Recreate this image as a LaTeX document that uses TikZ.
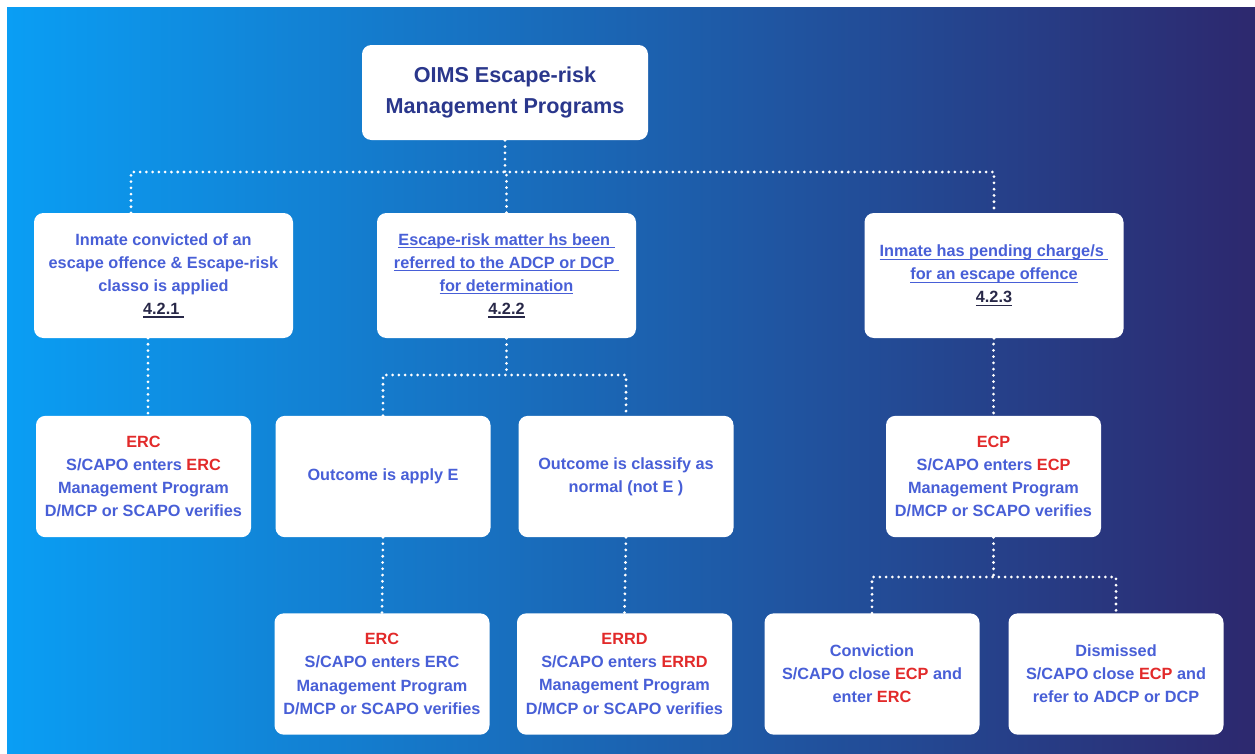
\documentclass[tikz,border=0pt]{standalone}
\usepackage{fontspec}
\setmainfont{Liberation Sans}
\definecolor{bgL}{RGB}{10,158,244}
\definecolor{bgM}{RGB}{28,92,180}
\definecolor{bgR}{RGB}{45,40,110}
\definecolor{txtblue}{RGB}{72,95,215}
\definecolor{titlenavy}{RGB}{42,55,140}
\definecolor{ercred}{RGB}{226,42,42}
\definecolor{numc}{RGB}{40,40,72}
\newcommand\rd[1]{{\color{ercred}#1}}
\newcommand\ulx[1]{\setbox0=\hbox{#1}\rlap{\rule[-2.3pt]{\wd0}{0.9pt}}\box0}
\newcommand\nm[1]{{\color{numc}\ulx{#1}}}
\begin{document}
\begin{tikzpicture}[x=0.75pt,y=-0.75pt,
  box/.style={fill=white, rounded corners=7pt, align=center, inner sep=0pt,
    text=txtblue, font=\bfseries\fontsize{12.2}{17.3}\selectfont},
  wbox/.style={box, minimum width=194.25pt, minimum height=93.75pt},
  sbox/.style={box, minimum width=161.25pt, minimum height=91pt},
  dotline/.style={draw=white, line width=2.3pt, line cap=round, dash pattern=on 0pt off 4.7pt}]
\useasboundingbox (0,0) rectangle (1255,753);
\fill[white] (0,0) rectangle (1255,753);
\shade[left color=bgL, middle color=bgM, right color=bgR] (7,7) rectangle (1255,753);

% nodes
\node[box, minimum width=214.5pt, minimum height=71.25pt, text=titlenavy,
  font=\bfseries\fontsize{16.2}{23}\selectfont] (top) at (505,92.5)
  {OIMS Escape-risk\\Management Programs};

\node[wbox] (A) at (163.5,275.5)
  {Inmate convicted of an\\escape offence \& Escape-risk\\classo is applied\\\nm{4.2.1\ }};
\node[wbox] (B) at (506.5,275.5)
  {\ulx{Escape-risk matter hs been\ }\\\ulx{referred to the ADCP or DCP\ }\\\ulx{for determination}\\\nm{4.2.2}};
\node[wbox] (C) at (994,275.5)
  {\ulx{Inmate has pending charge/s\ }\\\ulx{for an escape offence}\\\nm{4.2.3}};

\node[sbox] (A2) at (143.5,476.5)
  {\rd{ERC}\\S/CAPO enters \rd{ERC}\\Management Program\\D/MCP or SCAPO verifies};
\node[sbox] (B1) at (383,476.5) {Outcome is apply E};
\node[sbox] (B2) at (626,476.5) {Outcome is classify as\\normal (not E )};
\node[sbox] (C2) at (993.5,476.5)
  {\rd{ECP}\\S/CAPO enters \rd{ECP}\\Management Program\\D/MCP or SCAPO verifies};

\node[sbox] (B1b) at (382,674)
  {\rd{ERC}\\S/CAPO enters ERC\\Management Program\\D/MCP or SCAPO verifies};
\node[sbox] (B2b) at (624.5,674)
  {\rd{ERRD}\\S/CAPO enters \rd{ERRD}\\Management Program\\D/MCP or SCAPO verifies};
\node[sbox] (C3) at (872,674)
  {Conviction\\S/CAPO close \rd{ECP} and\\enter \rd{ERC}};
\node[sbox] (C4) at (1116,674)
  {Dismissed\\S/CAPO close \rd{ECP} and\\refer to ADCP or DCP};

% connectors
\coordinate (hub) at (505,172);
\coordinate (aIn) at (131,213);
\draw[dotline] (top.south) -- (hub);
\draw[dotline] (aIn) -- (aIn |- hub) -- (C.north |- hub) -- (C.north);
\draw[dotline] (B.north) -- (B.north |- hub);

\coordinate (aOut) at (148,338);
\draw[dotline] (aOut) -- (aOut |- A2.north);

\coordinate (hub2) at (506,375);
\draw[dotline] (B.south) -- (B.south |- hub2);
\draw[dotline] (B1.north) -- (B1.north |- hub2) -- (B2.north |- hub2) -- (B2.north);

\draw[dotline] (C.south) -- (C.south -| C2.north) -- (C2.north);

\draw[dotline] (B1.south) -- (B1b.north);
\draw[dotline] (B2.south) -- (B2b.north);

\coordinate (hub3) at (993.5,577);
\draw[dotline] (C2.south) -- (C2.south |- hub3);
\draw[dotline] (C3.north) -- (C3.north |- hub3) -- (C4.north |- hub3) -- (C4.north);
\end{tikzpicture}
\end{document}
